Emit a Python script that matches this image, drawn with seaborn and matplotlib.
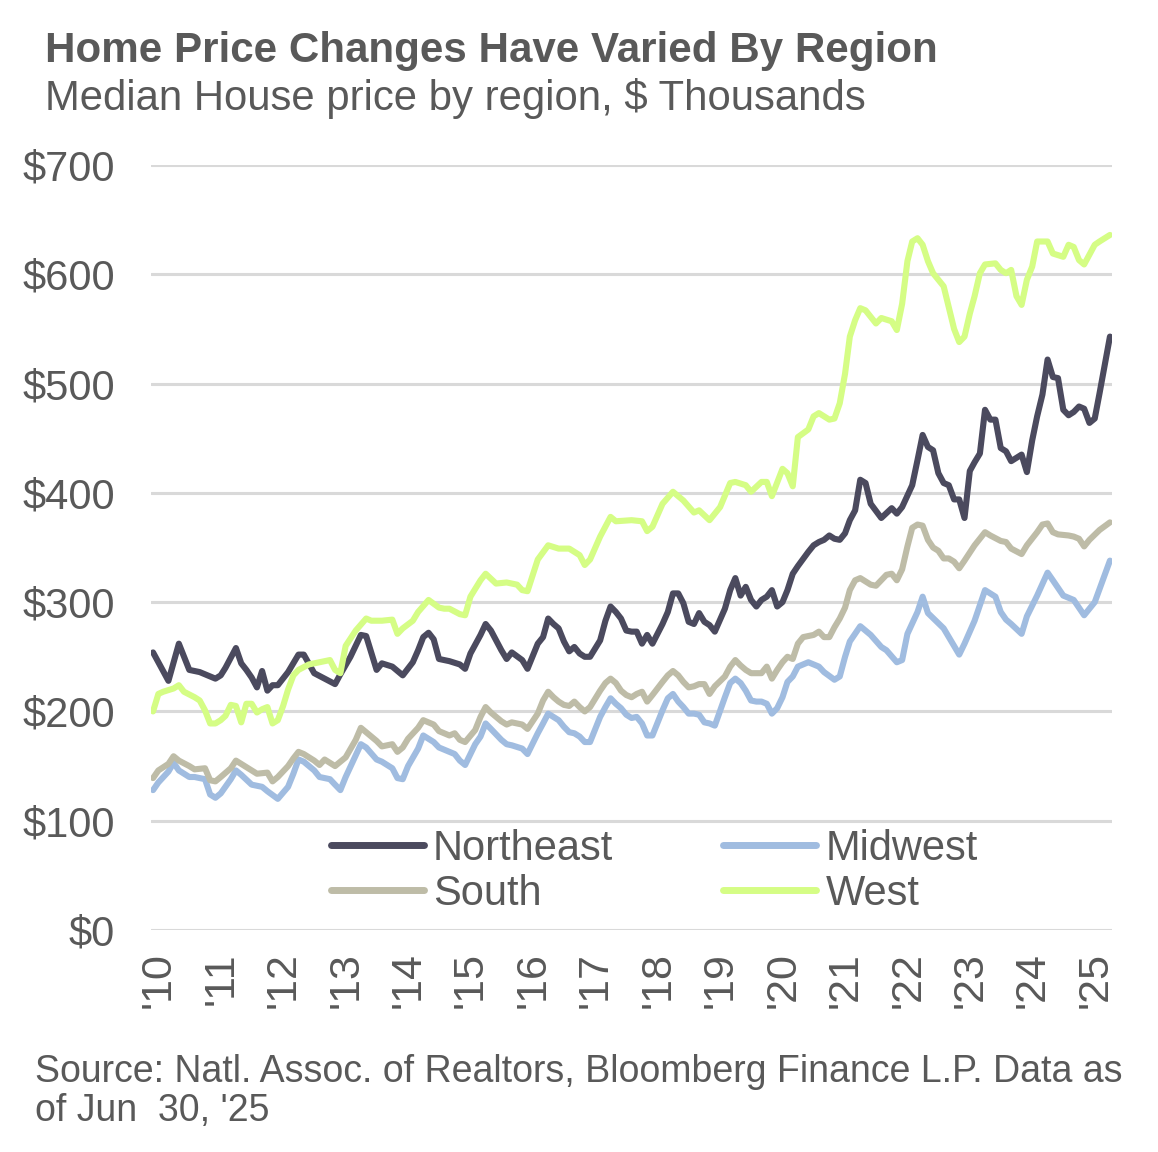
import numpy as np
import pandas as pd
import seaborn as sns
import matplotlib.pyplot as plt
from matplotlib.transforms import ScaledTranslation

# ── Data (months counted from Jan 2010, values in $ thousands) ─────────────
regions = ["Northeast", "Midwest", "South", "West"]

ne_month = [0, 3, 5, 7, 9, 12, 13, 14, 16, 17, 18, 19, 20, 21, 22, 23, 24, 26, 28, 29,
            31, 33, 35, 36, 38, 40, 41, 43, 44, 46, 48, 50, 51, 52, 53, 54, 55, 57, 59, 60,
            61, 63, 64, 65, 67, 68, 69, 71, 72, 74, 75, 76, 77, 78, 79, 80, 81, 82, 83, 84,
            86, 87, 88, 89, 90, 91, 92, 93, 94, 95, 96, 98, 99, 100, 101, 102, 103, 104, 105, 106,
            107, 108, 110, 111, 112, 113, 114, 115, 116, 117, 118, 119, 120, 121, 122, 123, 124, 126, 127, 128,
            129, 130, 131, 132, 133, 134, 135, 136, 137, 138, 140, 142, 143, 144, 146, 147, 148, 149, 150, 151,
            152, 153, 154, 155, 156, 157, 158, 159, 160, 161, 162, 163, 164, 165, 166, 167, 168, 169, 170, 171,
            172, 173, 174, 175, 176, 177, 178, 179, 180, 181, 182, 184]
ne_value = [254, 228, 262, 238, 236, 230, 233, 240, 258, 244, 238, 231, 222, 237, 219, 224, 224, 236, 252, 252,
            235, 230, 225, 234, 250, 270, 269, 238, 244, 241, 233, 245, 256, 268, 272, 266, 248, 246, 243, 239,
            253, 270, 280, 274, 256, 248, 254, 247, 239, 262, 268, 285, 280, 276, 264, 255, 259, 253, 250, 250,
            265, 283, 296, 291, 285, 274, 273, 273, 262, 270, 262, 280, 291, 308, 308, 299, 282, 280, 290, 282,
            279, 273, 294, 311, 322, 306, 314, 302, 296, 302, 305, 311, 296, 300, 311, 326, 333, 346, 352, 355,
            357, 361, 358, 357, 363, 375, 384, 412, 409, 390, 377, 386, 381, 387, 407, 430, 453, 442, 439, 418,
            409, 407, 394, 394, 377, 420, 428, 436, 476, 467, 467, 441, 438, 429, 432, 435, 419, 448, 470, 490,
            522, 506, 505, 476, 471, 474, 479, 477, 464, 468, 491, 543]

mw_month = [0, 1, 3, 4, 5, 7, 8, 10, 11, 12, 13, 15, 16, 17, 19, 21, 22, 24, 26, 27,
            28, 29, 31, 32, 34, 35, 36, 37, 39, 40, 41, 43, 44, 46, 47, 48, 49, 51, 52, 54,
            55, 57, 58, 59, 60, 62, 63, 64, 65, 67, 68, 69, 71, 72, 74, 75, 76, 77, 78, 79,
            80, 81, 82, 83, 84, 86, 87, 88, 89, 90, 91, 92, 93, 94, 95, 96, 98, 99, 100, 101,
            102, 103, 104, 105, 106, 107, 108, 110, 111, 112, 113, 114, 115, 116, 117, 118, 119, 120, 121, 122,
            123, 124, 126, 128, 129, 131, 132, 133, 134, 136, 137, 138, 140, 141, 143, 144, 145, 147, 148, 149,
            152, 155, 156, 158, 160, 162, 163, 164, 165, 167, 168, 170, 172, 173, 175, 177, 179, 181, 184]
mw_value = [128, 135, 145, 153, 146, 140, 140, 138, 124, 121, 125, 138, 146, 142, 133, 131, 127, 120, 131, 143,
            156, 154, 146, 140, 138, 133, 128, 140, 160, 170, 167, 156, 154, 148, 139, 138, 150, 166, 178, 172,
            167, 163, 161, 155, 151, 170, 177, 189, 184, 174, 170, 169, 166, 161, 180, 189, 198, 195, 192, 186,
            181, 180, 177, 172, 172, 195, 204, 212, 207, 203, 197, 194, 195, 189, 178, 178, 201, 212, 216, 209,
            204, 198, 198, 197, 190, 189, 187, 213, 226, 230, 226, 219, 210, 209, 209, 207, 198, 203, 213, 227,
            232, 241, 245, 241, 236, 229, 232, 250, 264, 278, 274, 270, 259, 256, 245, 247, 271, 291, 305, 290,
            276, 252, 262, 283, 311, 305, 291, 284, 280, 271, 287, 306, 327, 320, 306, 302, 288, 300, 338]

so_month = [0, 1, 3, 4, 5, 7, 8, 10, 11, 12, 13, 15, 16, 17, 19, 20, 22, 23, 24, 26,
            27, 28, 29, 31, 32, 33, 35, 37, 39, 40, 41, 43, 44, 46, 47, 48, 49, 51, 52, 54,
            55, 57, 58, 59, 60, 62, 63, 64, 65, 67, 68, 69, 71, 72, 74, 75, 76, 77, 78, 79,
            80, 81, 82, 83, 84, 86, 87, 88, 89, 90, 91, 92, 93, 94, 95, 96, 98, 99, 100, 101,
            102, 103, 104, 105, 106, 107, 108, 110, 111, 112, 113, 114, 115, 116, 117, 118, 119, 120, 121, 122,
            123, 124, 125, 127, 128, 129, 130, 131, 132, 133, 134, 135, 136, 138, 139, 141, 142, 143, 144, 145,
            146, 147, 148, 149, 150, 151, 152, 153, 154, 155, 156, 158, 160, 161, 163, 164, 165, 167, 168, 170,
            171, 172, 173, 174, 176, 177, 178, 179, 180, 182, 184]
so_value = [139, 146, 152, 159, 155, 150, 147, 148, 137, 136, 140, 148, 155, 152, 146, 143, 144, 136, 140, 150,
            157, 163, 161, 155, 151, 156, 150, 158, 174, 185, 181, 173, 168, 170, 163, 167, 175, 185, 192, 188,
            182, 178, 180, 174, 172, 183, 195, 204, 199, 191, 188, 190, 188, 184, 198, 210, 218, 213, 209, 206,
            205, 209, 204, 200, 204, 219, 226, 230, 226, 219, 215, 213, 216, 218, 209, 215, 227, 233, 237, 233,
            227, 222, 223, 225, 225, 216, 223, 232, 241, 247, 242, 238, 235, 235, 235, 241, 230, 238, 245, 250,
            248, 262, 268, 270, 273, 268, 268, 277, 285, 295, 311, 320, 322, 316, 315, 325, 326, 320, 330, 351,
            368, 371, 370, 357, 350, 347, 340, 340, 337, 331, 338, 352, 364, 361, 356, 355, 349, 344, 352, 364,
            371, 372, 364, 362, 361, 360, 358, 351, 357, 366, 373]

we_month = [0, 1, 2, 4, 5, 6, 8, 9, 10, 11, 12, 13, 14, 15, 16, 17, 18, 19, 20, 21,
            22, 23, 24, 25, 26, 27, 28, 30, 32, 34, 35, 36, 37, 39, 41, 42, 44, 46, 47, 48,
            50, 51, 53, 55, 56, 57, 59, 60, 61, 63, 64, 66, 68, 70, 71, 72, 74, 76, 78, 80,
            82, 83, 84, 86, 88, 89, 92, 94, 95, 96, 98, 100, 102, 104, 105, 107, 109, 111, 112, 114,
            115, 117, 118, 119, 121, 122, 123, 124, 126, 127, 128, 130, 131, 132, 133, 134, 135, 136, 137, 139,
            140, 142, 143, 144, 145, 146, 147, 148, 149, 150, 152, 153, 154, 155, 156, 157, 158, 159, 160, 162,
            163, 164, 165, 166, 167, 168, 169, 170, 172, 173, 175, 176, 177, 178, 179, 180, 181, 182, 184]
we_value = [200, 216, 218, 221, 224, 218, 213, 210, 201, 189, 189, 192, 196, 206, 205, 190, 207, 207, 199, 202,
            204, 189, 192, 205, 220, 233, 238, 243, 245, 247, 238, 235, 260, 274, 285, 283, 283, 284, 271, 276,
            283, 291, 302, 295, 294, 294, 289, 288, 305, 320, 326, 317, 318, 316, 311, 310, 339, 352, 349, 349,
            343, 334, 339, 360, 378, 374, 375, 374, 365, 369, 390, 401, 393, 382, 384, 375, 387, 409, 410, 407,
            401, 410, 410, 397, 422, 418, 406, 451, 458, 470, 473, 467, 468, 482, 509, 543, 558, 569, 567, 555,
            560, 557, 549, 573, 612, 630, 633, 627, 612, 601, 589, 570, 550, 538, 543, 564, 580, 601, 609, 610,
            604, 601, 604, 580, 572, 595, 607, 630, 630, 619, 616, 627, 625, 613, 609, 618, 627, 630, 636]

y_ticks = [0, 100, 200, 300, 400, 500, 600, 700]
x_years = list(range(2010, 2026))

colors = {"Northeast": "#4b4a5e", "Midwest": "#a0bce0",
          "South": "#bebca7", "West": "#d5fd85"}
GRAY = "#595959"

# ── Long table ────────────────────────────────────────────────────────────
start = pd.Timestamp("2010-01-01")
frames = []
for name, months, values in [("Northeast", ne_month, ne_value),
                             ("Midwest", mw_month, mw_value),
                             ("South", so_month, so_value),
                             ("West", we_month, we_value)]:
    frames.append(pd.DataFrame({
        "date": [start + pd.DateOffset(months=m) for m in months],
        "price": values,
        "region": name,
    }))
df = pd.concat(frames, ignore_index=True)

# ── Plot ──────────────────────────────────────────────────────────────────
sns.set_theme(style="white")
plt.rcParams["font.family"] = ["Liberation Sans", "DejaVu Sans"]

fig = plt.figure(figsize=(11.58, 11.52), dpi=100)
ax = fig.add_axes([151 / 1158, 222 / 1152, 961 / 1158, 765 / 1152])

sns.lineplot(data=df, x="date", y="price", hue="region", hue_order=regions,
             palette=colors, linewidth=4.4, estimator=None, ax=ax)

ax.set_ylim(0, 700)
ax.set_xlim(pd.Timestamp("2009-12-20"), pd.Timestamp("2025-05-13"))
ax.set_yticks(y_ticks)
ax.set_yticklabels([f"${v}" for v in y_ticks])
ax.set_xticks([pd.Timestamp(f"{y}-01-01") for y in x_years])
ax.set_xticklabels([f"'{y % 100:02d}" for y in x_years], rotation=90)
ax.set_xlabel("")
ax.set_ylabel("")

ax.yaxis.grid(True, color="#d9d9d9", linewidth=2.2)
ax.xaxis.grid(False)
ax.set_axisbelow(True)
for s in ax.spines.values():
    s.set_visible(False)
ax.tick_params(axis="x", length=0, pad=16, labelsize=31, labelcolor=GRAY)
ax.tick_params(axis="y", length=0, pad=26, labelsize=30, labelcolor=GRAY)

# nudge year labels a little to the right, as in the source chart
shift = ScaledTranslation(6 / 100, 0, fig.dpi_scale_trans)
for lab in ax.get_xticklabels():
    lab.set_transform(lab.get_transform() + shift)

# legend: two columns, rows NE/Midwest and South/West
handles, labels = ax.get_legend_handles_labels()
ax.legend_.remove()
lookup = dict(zip(labels, handles))
order = ["Northeast", "South", "Midwest", "West"]
leg = ax.legend([lookup[k] for k in order], order, ncol=2, loc="upper left",
                bbox_to_anchor=(331 / 1158, 1 - 829 / 1152),
                bbox_transform=fig.transFigure, frameon=False, fontsize=30,
                handlelength=2.23, handletextpad=0.22, columnspacing=2.64,
                labelspacing=0.11, borderpad=0, borderaxespad=0)
for t in leg.get_texts():
    t.set_color(GRAY)
for h in leg.legend_handles:
    h.set_linewidth(5)
    h.set_solid_capstyle("round")

# ── Titles and source ─────────────────────────────────────────────────────
fig.text(45 / 1158, 1 - 62 / 1152, "Home Price Changes Have Varied By Region",
         fontsize=30.3, fontweight="bold", color=GRAY, va="baseline")
fig.text(45 / 1158, 1 - 110 / 1152, "Median House price by region, $ Thousands",
         fontsize=30.2, color=GRAY, va="baseline")
fig.text(35 / 1158, 1 - 1082 / 1152,
         "Source: Natl. Assoc. of Realtors, Bloomberg Finance L.P. Data as",
         fontsize=27, color=GRAY, va="baseline")
fig.text(35 / 1158, 1 - 1121 / 1152, "of Jun  30, '25",
         fontsize=27, color=GRAY, va="baseline")

fig.savefig("out.png", dpi=100)
